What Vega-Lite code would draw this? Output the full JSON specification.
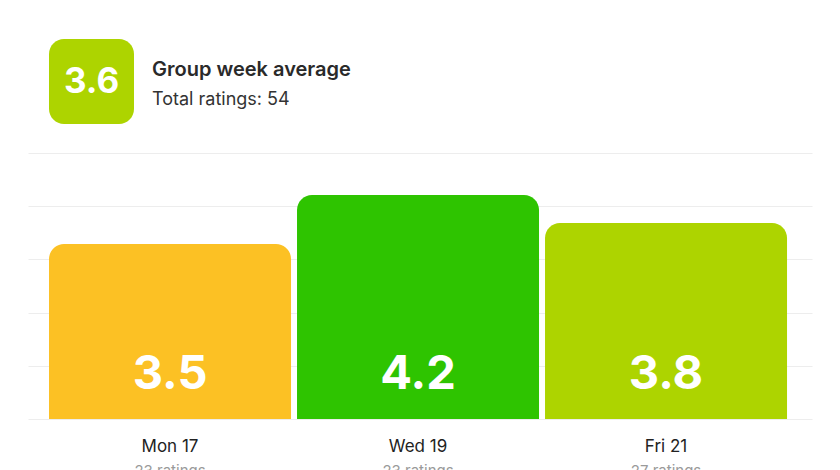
{
  "$schema": "https://vega.github.io/schema/vega-lite/v6.json",
  "background": "white",
  "padding": {"left": 28, "top": 39, "right": 28, "bottom": 0},
  "config": {"view": {"stroke": null}, "font": "Inter"},
  "datasets": {
    "week": [{"average": 3.6, "title": "Group week average", "subtitle": "Total ratings: 54"}],
    "days": [
      {"day": "Mon 17", "average": 3.5, "ratings": "23 ratings"},
      {"day": "Wed 19", "average": 4.2, "ratings": "23 ratings"},
      {"day": "Fri 21", "average": 3.8, "ratings": "27 ratings"}
    ]
  },
  "spacing": 5,
  "center": true,
  "vconcat": [
    {
      "spacing": 18,
      "hconcat": [
        {
          "data": {"name": "week"},
          "width": 85,
          "height": 85,
          "layer": [
            {
              "mark": {"type": "rect", "cornerRadius": 15},
              "encoding": {
                "color": {
                  "field": "average",
                  "type": "quantitative",
                  "scale": {"type": "threshold", "domain": [3.6, 4.0], "range": ["#FCC124", "#ADD400", "#2EC400"]},
                  "legend": null
                }
              }
            },
            {
              "mark": {"type": "text", "fontSize": 35, "fontWeight": "bold", "color": "white"},
              "encoding": {"text": {"field": "average", "type": "quantitative", "format": ".1f"}}
            }
          ]
        },
        {
          "data": {"name": "week"},
          "width": 639,
          "height": 109,
          "encoding": {
            "x": {"datum": 0, "type": "quantitative", "scale": {"domain": [0, 1]}, "axis": null}
          },
          "layer": [
            {
              "mark": {"type": "text", "align": "left", "baseline": "middle", "fontSize": 20, "fontWeight": 600, "color": "#2a2a2a"},
              "encoding": {
                "y": {"datum": "title", "type": "nominal", "scale": {"domain": ["title", "subtitle"], "range": [31, 61], "padding": 0}, "axis": null},
                "text": {"field": "title"}
              }
            },
            {
              "mark": {"type": "text", "align": "left", "baseline": "middle", "fontSize": 18, "color": "#333333"},
              "encoding": {
                "y": {"datum": "subtitle", "type": "nominal"},
                "text": {"field": "subtitle"}
              }
            }
          ]
        }
      ]
    },
    {
      "data": {"name": "days"},
      "width": 784,
      "height": 266,
      "encoding": {
        "x": {
          "field": "day",
          "type": "nominal",
          "sort": null,
          "scale": {"type": "band", "paddingInner": 0.0242, "paddingOuter": 0.0927, "align": 0.457},
          "axis": null
        }
      },
      "layer": [
        {
          "mark": {"type": "bar", "cornerRadiusTopLeft": 15, "cornerRadiusTopRight": 15},
          "encoding": {
            "y": {
              "field": "average",
              "type": "quantitative",
              "scale": {"domain": [1, 4.8], "nice": false, "zero": false},
              "axis": {
                "values": [1, 1.76, 2.52, 3.28, 4.04, 4.8],
                "labels": false,
                "ticks": false,
                "domain": false,
                "title": null,
                "grid": true,
                "gridColor": "#ededed"
              }
            },
            "y2": {"datum": 1},
            "color": {
              "field": "average",
              "type": "quantitative",
              "scale": {"type": "threshold", "domain": [3.6, 4.0], "range": ["#FCC124", "#ADD400", "#2EC400"]},
              "legend": null
            }
          }
        },
        {
          "mark": {"type": "text", "color": "white", "fontSize": 47, "fontWeight": "bold", "baseline": "alphabetic", "dy": -30},
          "encoding": {
            "y": {"datum": 1, "type": "quantitative"},
            "text": {"field": "average", "type": "quantitative", "format": ".1f"}
          }
        }
      ]
    },
    {
      "data": {"name": "days"},
      "width": 784,
      "height": 46,
      "encoding": {
        "x": {
          "field": "day",
          "type": "nominal",
          "sort": null,
          "scale": {"type": "band", "paddingInner": 0.0242, "paddingOuter": 0.0927, "align": 0.457},
          "axis": null
        }
      },
      "layer": [
        {
          "mark": {"type": "text", "fontSize": 17, "color": "#222222", "dy": 0},
          "encoding": {"text": {"field": "day"}}
        },
        {
          "mark": {"type": "text", "fontSize": 15, "color": "#9a9a9a", "dy": 24, "clip": true},
          "encoding": {"text": {"field": "ratings"}}
        }
      ]
    }
  ]
}
